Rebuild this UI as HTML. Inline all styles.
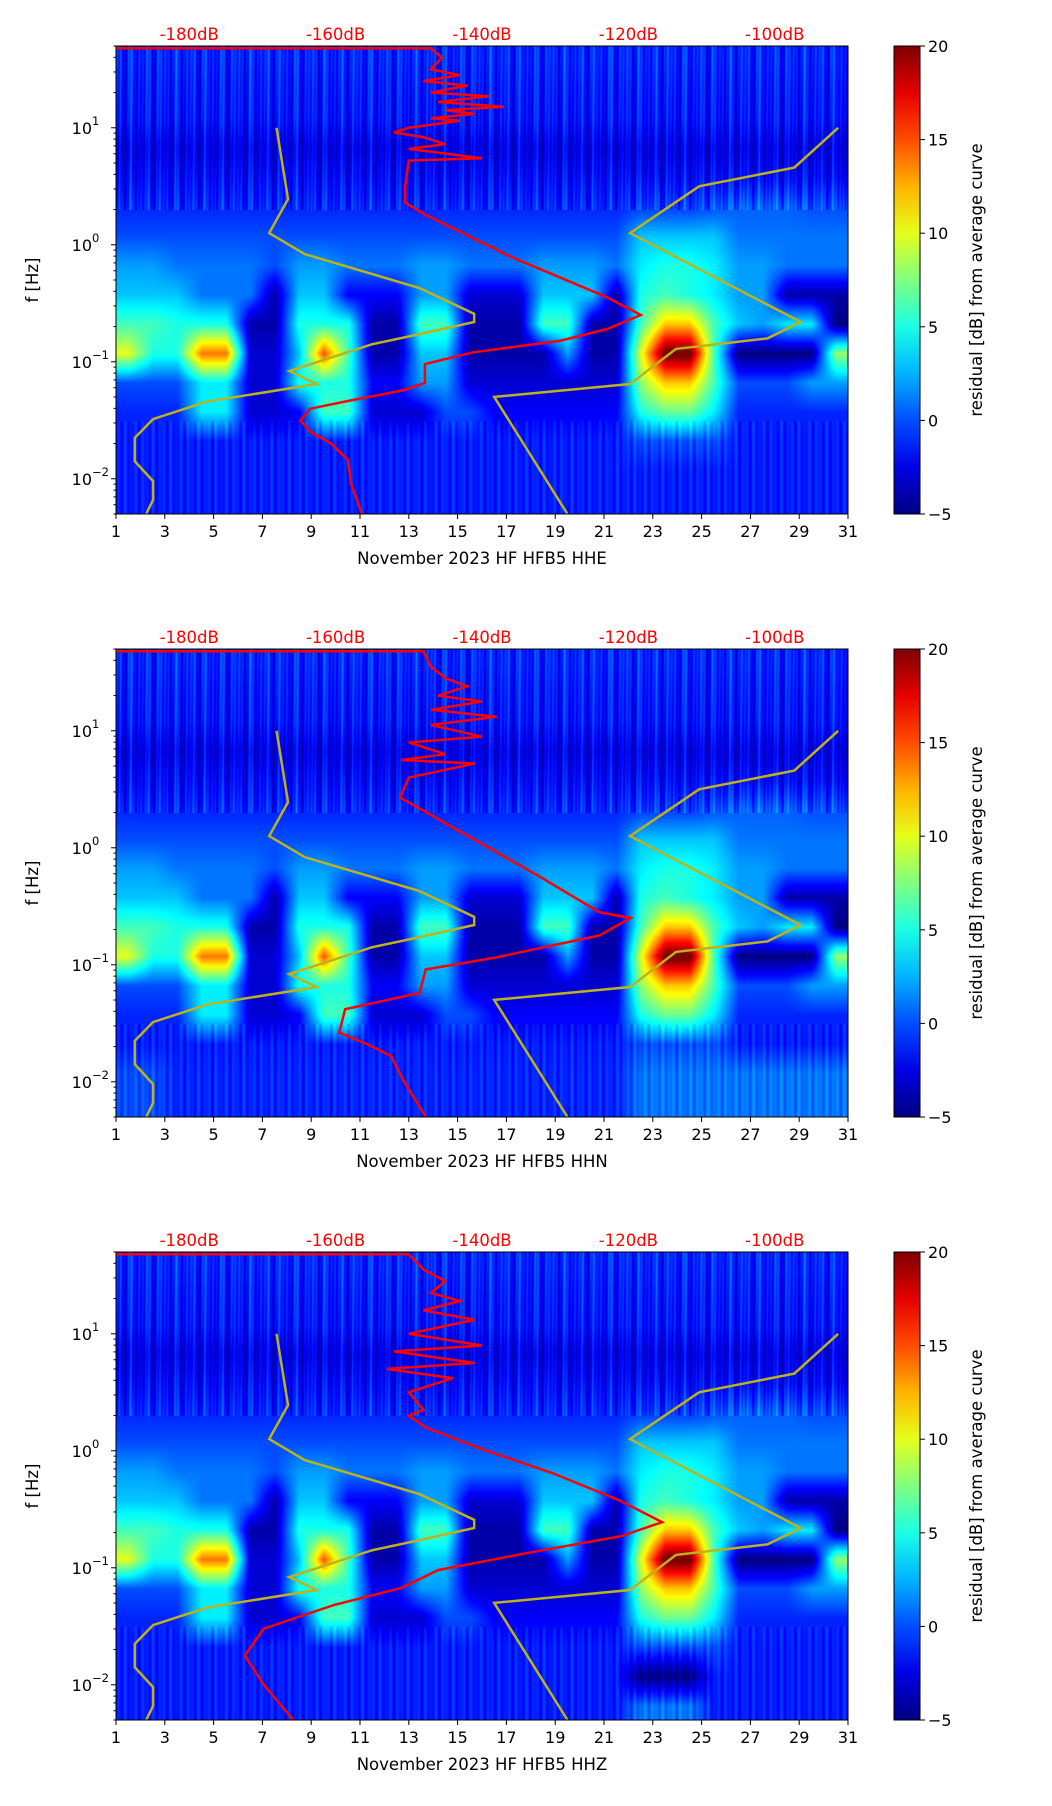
<!DOCTYPE html>
<html><head><meta charset="utf-8"><style>
html,body{margin:0;padding:0;background:#fff}
#root{position:relative;width:1052px;height:1806px;overflow:hidden;font-family:"DejaVu Sans","Liberation Sans",sans-serif}
canvas{position:absolute}
svg{position:absolute;left:0;top:0}
</style></head><body>
<div id="root">
<svg id="ov" width="1052" height="1806" font-family="DejaVu Sans, Liberation Sans, sans-serif"></svg>
</div>
<script>
// ---- data ----
const panelTitles = ["November 2023 HF HFB5  HHE","November 2023 HF HFB5  HHN","November 2023 HF HFB5  HHZ"];
const dayTicks = [1,3,5,7,9,11,13,15,17,19,21,23,25,27,29,31];
const dbTicks = [-180,-160,-140,-120,-100];
const cbTicks = [20,15,10,5,0,-5];
const yTickExp = [1,0,-1,-2];
// residual grid rows (high freq -> low freq), 30 day-columns
const row0 = Array(30).fill(-1);
const row1 = Array(30).fill(-1.3);
const row2 = Array(30).fill(-1.5);
const row3 = Array(30).fill(-2.5);
const row4 = Array(30).fill(-1.8);
const row5 = [-1,-1,-1,-1,-1,-1,-1,-1,-1,-1,-1,-1,-1,-1,-1,-1,-1,-1,-1,-1,-1,-0.5,-0.5,-0.5,0,0.5,0.5,0.5,0,0];
const row6 = [0,0,0,0,0,0,0,0,0,0,0,0,0,0,0,0,0,0,0,0,0,3,3,3,3,1,1,1,1,1];
const row7 = [2,2,1,1,1,1,0,2,2,1,1,1,2,2,1,1,1,2,2,2,1,4,5,5,4,2,2,1,1,1];
const row8 = [3,3,3,1,1,1,-4,3,3,-2,-2,-2,2,2,-3,-3,-3,3,3,3,-4,5,6,5,4,2,2,-4,-4,-4];
const row9 = [6,6,5,5,5,-4,-4,5,5,5,-4,-4,6,6,-4,-4,-4,6,6,-4,-4,6,12,12,6,3,2,4,4,-5];
const row10 = [10,5,5,14,14,-3,-3,3,15,6,-4,-4,3,3,-4,-4,-4,-4,2,-4,-4,10,21,21,6,-5,-5,-5,-5,8];
const row11 = [0,0,0,4,4,-3,-3,5,5,5,-2,-2,2,2,-3,-3,-3,-3,-3,-3,-3,8,12,12,6,0,0,0,2,2];
const row12 = [-1,-1,-1,4,4,-3,-3,-2,6,6,-3,-3,-3,0,0,-2,-2,-2,-2,-2,-2,5,7,7,4,-1,-1,-1,-1,-1];
const row13 = [-1.2,-1.2,-1.2,-1.2,-1.2,-1.2,-1.2,-1.2,-1.2,-1.2,-1.2,-1.2,-1.2,-1.2,-1.2,-1.2,-1.2,-1.2,-1.2,-1.2,-1.2,0,0,0,0,-1.2,-1.2,-1.2,-1.2,-1.2];
const row14 = Array(30).fill(-1.2);
const row15 = Array(30).fill(-1.2);
const row14N = [0,0,-1,-1,-1,-1,-1,-1,-1,-1,-1,-1,-1,-1,-1,-1,-1,-1,-1,-1,-1,1,1,1,1,1,1,1,1,1];
const row14Z = [-1.2,-1.2,-1.2,-1.2,-1.2,-1.2,-1.2,-1.2,-1.2,-1.2,-1.2,-1.2,-1.2,-1.2,-1.2,-1.2,-1.2,-1.2,-1.2,-1.2,-1.2,-5,-5,-5,-1.2,-1.2,-1.2,-1.2,-1.2,-1.2];
const row15Z = [-1.2,-1.2,-1.2,-1.2,-1.2,-1.2,-1.2,-1.2,-1.2,-1.2,-1.2,-1.2,-1.2,-1.2,-1.2,-1.2,-1.2,-1.2,-1.2,-1.2,-1.2,1,1,1,-1.2,-1.2,-1.2,-1.2,-1.2,-1.2];
// yellow reference curve: days and log10(f)
const yelDayA = [7.58,8.05,7.28,8.74,13.44,15.68,15.68,13.3,11.5,8.1,9.24,4.73,2.52,1.77,1.77,2.52,2.52,2.24];
const yelLogA = [1,0.39,0.1,-0.08,-0.37,-0.59,-0.66,-0.77,-0.85,-1.08,-1.19,-1.34,-1.49,-1.65,-1.85,-2.02,-2.18,-2.3];
const yelDayB = [30.6,28.8,24.9,22.07,29.06,27.7,23.95,22.07,16.5,19.5];
const yelLogB = [1,0.66,0.5,0.1,-0.66,-0.8,-0.89,-1.19,-1.3,-2.3];
// red mean PSD curves: dB and log10(f)
const redDbE = [-190,-147,-145.5,-147,-143,-148,-142,-147,-139,-146,-137,-145,-141,-147,-143,-150,-152,-148,-145,-150,-140,-150,-150.5,-150.5,-147.8,-141.3,-135.8,-129.3,-122.9,-118.3,-122.9,-129.3,-141.3,-147.8,-147.8,-150.5,-157.9,-163.4,-164.8,-163.4,-160.6,-158.3,-157.9,-156.4];
const redLogE = [1.68,1.68,1.6,1.5,1.45,1.4,1.36,1.3,1.27,1.22,1.18,1.15,1.12,1.08,1.06,1.0,0.96,0.92,0.86,0.82,0.74,0.72,0.5,0.36,0.26,0.06,-0.11,-0.28,-0.45,-0.6,-0.72,-0.82,-0.92,-1.02,-1.18,-1.24,-1.33,-1.4,-1.5,-1.6,-1.7,-1.84,-2.04,-2.3];
const redDbN = [-190,-148,-147,-145,-142,-146,-140,-147,-138,-147,-140,-150,-145,-151,-141,-150,-151.2,-143,-132,-124,-119.7,-124,-138.3,-147.7,-148.5,-158.7,-159.5,-155.6,-152.4,-150.9,-147.7];
const redLogN = [1.68,1.68,1.55,1.45,1.38,1.3,1.25,1.18,1.12,1.05,0.95,0.9,0.8,0.75,0.72,0.6,0.43,0.14,-0.25,-0.55,-0.6,-0.75,-0.94,-1.04,-1.24,-1.38,-1.58,-1.68,-1.78,-1.97,-2.3];
const redDbZ = [-190,-150,-148,-145,-147,-143,-148,-141,-150,-140,-152,-141,-153,-144,-150,-148,-150,-147.7,-139.8,-130.4,-121,-115.4,-121,-133.5,-146,-150.9,-160.3,-169.8,-172.4,-169.8,-165.8];
const redLogZ = [1.68,1.68,1.55,1.45,1.35,1.28,1.2,1.12,1.0,0.9,0.85,0.75,0.7,0.62,0.5,0.35,0.3,0.2,0.01,-0.19,-0.43,-0.61,-0.73,-0.87,-1.02,-1.17,-1.32,-1.52,-1.75,-2.0,-2.3];

// ---- layout ----
const X0=116, X1=848, PANEL_TOPS=[46,649,1252], PH=468, CBX=894, CBW=26;
const LOGMAX=Math.log10(50), LOGMIN=Math.log10(0.005);
const xDay = d => X0 + (d-1)/30*(X1-X0);
const xDb = db => X0 + (db+190)/100*(X1-X0);
const yLog = (top,l) => top + (LOGMAX-l)/(LOGMAX-LOGMIN)*PH;
const clamp=v=>Math.max(0,Math.min(1,v));
function jet(t){return [clamp(1.5-Math.abs(4*t-3)),clamp(1.5-Math.abs(4*t-2)),clamp(1.5-Math.abs(4*t-1))].map(v=>Math.round(v*255));}
const NS='http://www.w3.org/2000/svg';
const ov=document.getElementById('ov');
function el(tag,attrs,parent){const e=document.createElementNS(NS,tag);for(const k in attrs)e.setAttribute(k,attrs[k]);(parent||ov).appendChild(e);return e;}

const grids=[
 [row0,row1,row2,row3,row4,row5,row6,row7,row8,row9,row10,row11,row12,row13,row14,row15],
 [row0,row1,row2,row3,row4,row5,row6,row7,row8,row9,row10,row11,row12,row13,row14N,row14N],
 [row0,row1,row2,row3,row4,row5,row6,row7,row8,row9,row10,row11,row12,row13,row14Z,row15Z]
];
const reds=[[redDbE,redLogE],[redDbN,redLogN],[redDbZ,redLogZ]];
const root=document.getElementById('root');

PANEL_TOPS.forEach((top,p)=>{
  const W=X1-X0;
  const cv=document.createElement('canvas');cv.width=W;cv.height=PH;
  cv.style.left=X0+'px';cv.style.top=top+'px';
  
  
  root.insertBefore(cv,ov);
  const ctx=cv.getContext('2d');const img=ctx.createImageData(W,PH);const g=grids[p];
  const nR=g.length;
  for(let y=0;y<PH;y++){
    const l=LOGMAX-(y/PH)*(LOGMAX-LOGMIN);
    let rf=(1.575-l)/0.25; rf=Math.max(0,Math.min(nR-1,rf));
    const r0=Math.floor(rf),r1=Math.min(nR-1,r0+1),fr=rf-r0;
    for(let x=0;x<W;x++){
      let cf=x/W*30-0.5; cf=Math.max(0,Math.min(29,cf));
      const c0=Math.floor(cf),c1=Math.min(29,c0+1),fc=cf-c0;
      let v=(g[r0][c0]*(1-fc)+g[r0][c1]*fc)*(1-fr)+(g[r1][c0]*(1-fc)+g[r1][c1]*fc)*fr;
      if(l>0.3) v+=1.5*Math.sin(x*0.55)*Math.sin(x*0.13)+0.8*Math.sin(x*1.7+y*0.02);
      else if(l<-1.5) v+=1.0*Math.sin(x*0.9)*Math.sin(x*0.21);
      const [R,G,B]=jet(clamp((v+5)/25));
      const i=(y*W+x)*4;img.data[i]=R;img.data[i+1]=G;img.data[i+2]=B;img.data[i+3]=255;
    }
  }
  ctx.putImageData(img,0,0);

  const pa=yelDayA.map((d,i)=>xDay(d)+','+yLog(top,yelLogA[i])).join(' ');
  const ya=el('polyline',{points:pa,fill:'none',stroke:'#bdb21c','stroke-width':2.5});
  
  
  const pb=yelDayB.map((d,i)=>xDay(d)+','+yLog(top,yelLogB[i])).join(' ');
  const yb=el('polyline',{points:pb,fill:'none',stroke:'#bdb21c','stroke-width':2.5});
  
  
  const [rd,rl]=reds[p];
  const pr=rd.map((d,i)=>xDb(d)+','+yLog(top,rl[i])).join(' ');
  const rc=el('polyline',{points:pr,fill:'none',stroke:'#ff0000','stroke-width':2.5});
  
  

  const fr=el('rect',{x:X0,y:top,width:W,height:PH,fill:'none',stroke:'#000','stroke-width':1});
  
  
  dayTicks.forEach(d=>{
    el('line',{x1:xDay(d),x2:xDay(d),y1:top+PH,y2:top+PH+5,stroke:'#000'});
    const t=el('text',{x:xDay(d),y:top+PH+23,'text-anchor':'middle','font-size':16});
    t.textContent=d;
    
    
  });
  const xt=el('text',{x:(X0+X1)/2,y:top+PH+50,'text-anchor':'middle','font-size':16.5});
  xt.textContent=panelTitles[p];
  
  
  dbTicks.forEach(db=>{
    const t=el('text',{x:xDb(db),y:top-6,'text-anchor':'middle','font-size':16.5,fill:'#ff0000'});
    t.textContent=db+'dB';
    
    
  });
  for(let e=-3;e<=1;e++){for(let m=1;m<10;m++){const l=e+Math.log10(m);if(l<LOGMIN||l>LOGMAX)continue;
    const yy=yLog(top,l);el('line',{x1:X0-(m==1?5:2.5),x2:X0,y1:yy,y2:yy,stroke:'#000'});}}
  yTickExp.forEach(e=>{
    const yy=yLog(top,e);
    const t=el('text',{x:X0-24,y:yy+6,'text-anchor':'end','font-size':16});
    t.textContent='10';
    
    
    const s=el('text',{x:X0-24,y:yy-3,'text-anchor':'start','font-size':11.5});
    s.textContent=e<0?'\u2212'+(-e):String(e);
    
    
  });
  const yl=el('text',{x:38,y:top+PH/2,'text-anchor':'middle','font-size':16.5,transform:'rotate(-90 38 '+(top+PH/2)+')'});
  yl.textContent='f [Hz]';
  
  

  const gid='cbg'+p;const defs=el('defs',{});const lg=el('linearGradient',{id:gid,x1:0,y1:1,x2:0,y2:0},defs);
  for(let i=0;i<=10;i++){const [R,G,B]=jet(i/10);el('stop',{offset:i/10,'stop-color':`rgb(${R},${G},${B})`},lg);}
  const cb=el('rect',{x:CBX,y:top,width:CBW,height:PH,fill:`url(#${gid})`,stroke:'#000','stroke-width':1});
  
  
  cbTicks.forEach(v=>{
    const yy=top+(20-v)/25*PH;
    el('line',{x1:CBX+CBW,x2:CBX+CBW+5,y1:yy,y2:yy,stroke:'#000'});
    const t=el('text',{x:CBX+CBW+8,y:yy+6,'font-size':16});
    t.textContent=v<0?'\u2212'+(-v):String(v);
    
    
  });
  const cx=CBX+CBW+62,cy=top+PH/2;
  const cl=el('text',{x:cx,y:cy,'text-anchor':'middle','font-size':16.5,transform:`rotate(-90 ${cx} ${cy})`});
  cl.textContent='residual [dB] from average curve';
  
  
});
</script>
</body></html>
